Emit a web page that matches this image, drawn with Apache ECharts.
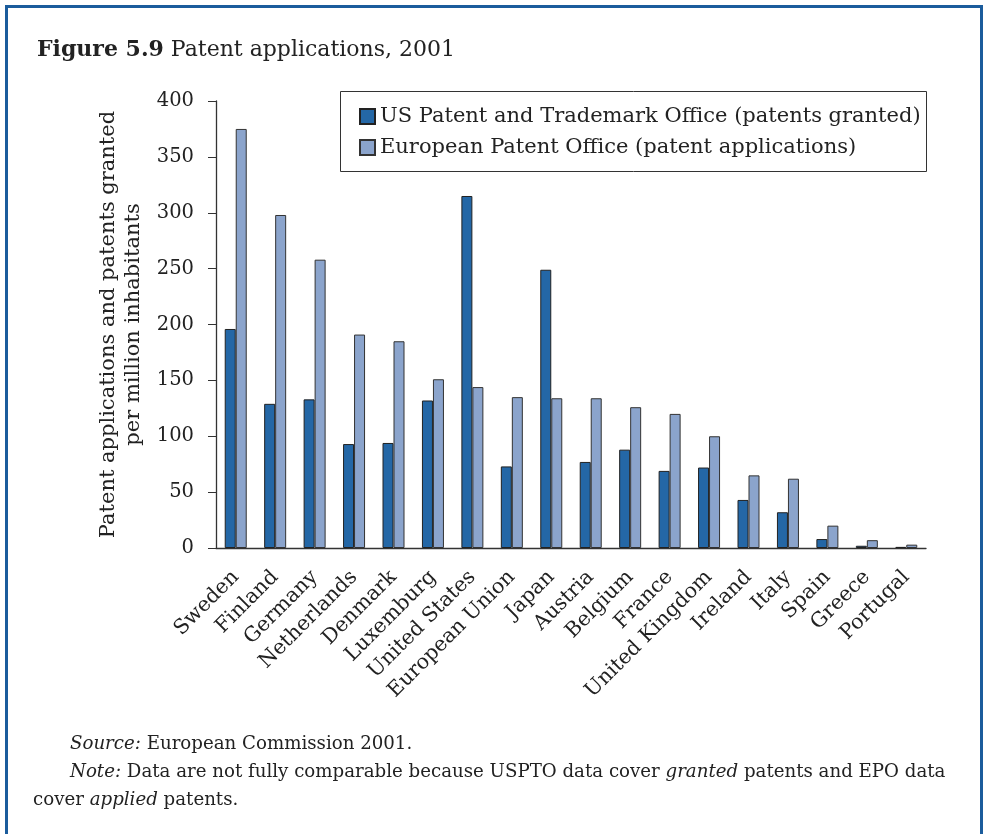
<!DOCTYPE html>
<html>
<head>
<meta charset="utf-8">
<script src="https://cdn.jsdelivr.net/npm/echarts@6/dist/echarts.min.js"></script>
<style>
  html, body { margin: 0; padding: 0; background: #fff; }
  #frame {
    position: absolute; left: 5px; top: 5px; width: 978px; height: 860px;
    border: 3px solid #1b5c9c; box-sizing: border-box;
  }
  #chart { position: absolute; left: 0; top: 0; width: 988px; height: 834px; }
</style>
</head>
<body>
<div id="frame"></div>
<div id="chart"></div>
<script>
const countries = ['Sweden', 'Finland', 'Germany', 'Netherlands', 'Denmark', 'Luxemburg',
  'United States', 'European Union', 'Japan', 'Austria', 'Belgium', 'France',
  'United Kingdom', 'Ireland', 'Italy', 'Spain', 'Greece', 'Portugal'];
const usptoGranted = [196, 129, 133, 93, 94, 132, 315, 73, 249, 77, 88, 69, 72, 43, 32, 8, 2, 1];
const epoApplications = [375, 298, 258, 191, 185, 151, 144, 135, 134, 134, 126, 120, 100, 65, 62, 20, 7, 3];
const yTicks = [0, 50, 100, 150, 200, 250, 300, 350, 400];

const serif = '"DejaVu Serif", "Liberation Serif", serif';
const chart = echarts.init(document.getElementById('chart'));

const option = {
  backgroundColor: 'transparent',
  animation: false,
  textStyle: { fontFamily: serif, color: '#222' },
  title: {
    left: 32, top: 34,
    text: '{b|Figure 5.9} Patent applications, 2001',
    textStyle: {
      fontFamily: serif, fontSize: 22, fontWeight: 'normal', color: '#222',
      rich: { b: { fontFamily: serif, fontSize: 22, fontWeight: 'bold', color: '#222' } }
    }
  },
  graphic: [
    // legend box
    { type: 'rect', left: 340, top: 91, shape: { width: 586, height: 80 },
      style: { fill: '#fff', stroke: '#333', lineWidth: 1 }, z: 1 },
    { type: 'text', left: 70, top: 735, z: 5,
      style: {
        text: '{i|Source:} European Commission 2001.',
        font: '18.2px ' + serif, fill: '#222',
        rich: { i: { fontStyle: 'italic', fontSize: 18.2, fontFamily: serif } }
      } },
    { type: 'text', left: 70, top: 763, z: 5,
      style: {
        text: '{i|Note:} Data are not fully comparable because USPTO data cover {i|granted} patents and EPO data',
        font: '18.2px ' + serif, fill: '#222',
        rich: { i: { fontStyle: 'italic', fontSize: 18.2, fontFamily: serif } }
      } },
    { type: 'text', left: 33, top: 791, z: 5,
      style: {
        text: 'cover {i|applied} patents.',
        font: '18.2px ' + serif, fill: '#222',
        rich: { i: { fontStyle: 'italic', fontSize: 18.2, fontFamily: serif } }
      } }
  ],
  legend: {
    orient: 'vertical',
    left: 354, top: 101,
    icon: 'rect',
    itemWidth: 15, itemHeight: 15, itemGap: 10,
    textStyle: { fontFamily: serif, fontSize: 21, color: '#222' },
    z: 4,
    data: ['US Patent and Trademark Office (patents granted)', 'European Patent Office (patent applications)']
  },
  grid: { left: 216, right: 62, top: 101, bottom: 286 },
  xAxis: {
    type: 'category',
    data: countries,
    axisLine: { lineStyle: { color: '#333', width: 1.3 } },
    axisTick: { alignWithLabel: true, length: 7, lineStyle: { color: '#333' } },
    axisLabel: { rotate: 45, margin: 26, fontFamily: serif, fontSize: 20.5, color: '#222', interval: 0 }
  },
  yAxis: {
    type: 'value',
    min: 0, max: 400, interval: 50,
    name: 'Patent applications and patents granted\nper million inhabitants',
    nameLocation: 'middle',
    nameGap: 67,
    nameTextStyle: { fontFamily: serif, fontSize: 21, color: '#222', lineHeight: 25 },
    axisLine: { show: true, lineStyle: { color: '#333', width: 1.3 } },
    axisTick: { show: true, length: 8, lineStyle: { color: '#333' } },
    splitLine: { show: false },
    axisLabel: {
      margin: 22, fontFamily: serif, fontSize: 19.5, color: '#222',
      formatter: (v) => (yTicks.includes(v) ? String(v) : '')
    }
  },
  series: [
    {
      name: 'US Patent and Trademark Office (patents granted)',
      type: 'bar',
      data: usptoGranted,
      barWidth: 11,
      barGap: '0%',
      itemStyle: { color: '#2467a6', borderColor: '#222', borderWidth: 1 }
    },
    {
      name: 'European Patent Office (patent applications)',
      type: 'bar',
      data: epoApplications,
      barWidth: 11,
      itemStyle: { color: '#8ba4cc', borderColor: '#333', borderWidth: 1 }
    }
  ]
};

chart.setOption(option);
</script>
</body>
</html>
